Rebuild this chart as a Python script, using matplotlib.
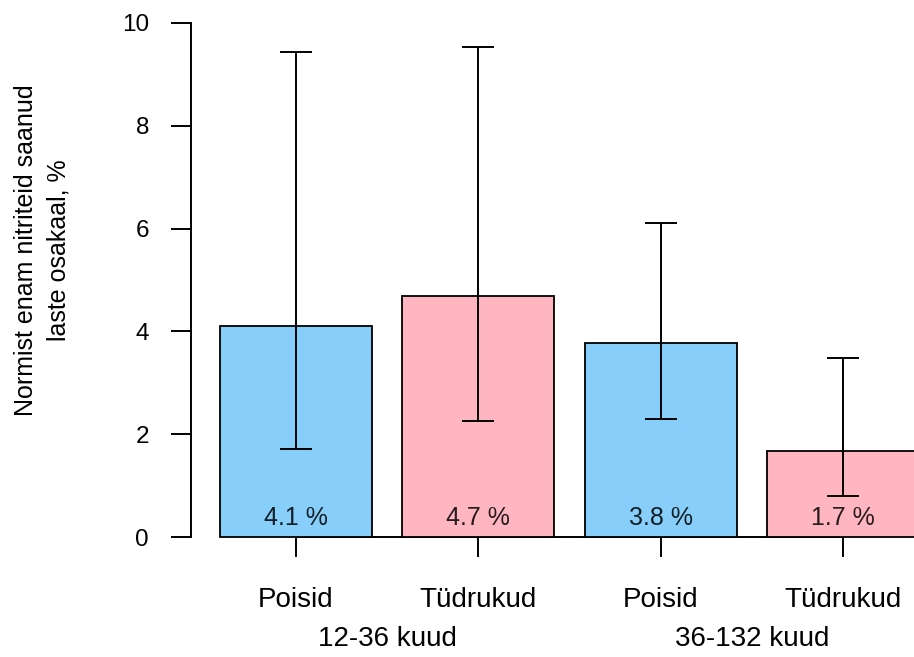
import matplotlib
matplotlib.use("Agg")
import matplotlib.pyplot as plt
import matplotlib.transforms as mtransforms

plt.rcParams['font.family'] = ['Liberation Sans', 'DejaVu Sans']

# nitrite share by sex and age group, with confidence limits
groups = ['12-36 kuud', '36-132 kuud']
sexes = ['Poisid', 'Tüdrukud', 'Poisid', 'Tüdrukud']
share = [4.11, 4.69, 3.77, 1.67]
ci_low = [1.71, 2.26, 2.30, 0.79]
ci_high = [9.44, 9.53, 6.11, 3.49]
colors = ['#87CEFA', '#FFB6C1', '#87CEFA', '#FFB6C1']

# barplot-style positions: width 1, gap 0.2
xpos = [0.7 + 1.2 * i for i in range(len(share))]

fig = plt.figure(figsize=(9.14, 6.57), dpi=100)
W, H = 914, 657
ax = fig.add_axes([191 / W, 1 - 557.6 / H, (W - 191) / W, (557.6 - 2.4) / H])
ax.set_xlim(0.0086, 4.768)
ax.set_ylim(-0.4, 10.4)

ax.bar(xpos, share, width=1.0, color=colors, edgecolor='black', linewidth=1.3, zorder=2)
err = [[s - lo for s, lo in zip(share, ci_low)], [hi - s for s, hi in zip(share, ci_high)]]
ax.errorbar(xpos, share, yerr=err, fmt='none', ecolor='black', elinewidth=1.4,
            capsize=11.5, capthick=1.4, zorder=3)

for x, s in zip(xpos, share):
    ax.text(x, 0.23, f"{s:.1f} %", ha='center', va='baseline', fontsize=18,
            color='black', alpha=0.85, zorder=4)

# axes in R style
for side in ['top', 'right']:
    ax.spines[side].set_visible(False)
ax.spines['left'].set_bounds(0, 10)
ax.spines['left'].set_linewidth(1.4)
ax.spines['bottom'].set_position(('data', 0))
ax.spines['bottom'].set_bounds(xpos[0], xpos[-1])
ax.spines['bottom'].set_linewidth(1.4)
ax.spines['bottom'].set_zorder(1)

ax.set_yticks(range(0, 11, 2))
ax.tick_params(axis='y', length=14.4, width=1.4, pad=15.8, labelsize=17.5)
ax.set_xticks(xpos)
ax.set_xticklabels([])
ax.tick_params(axis='x', length=14.4, width=1.4)

# category and group labels below the axis
trans = mtransforms.blended_transform_factory(ax.transData, fig.transFigure)
for x, lab in zip(xpos, sexes):
    ax.text(x, 1 - 607 / H, lab, transform=trans, ha='center', va='baseline',
            fontsize=20, clip_on=False)
for i, g in enumerate(groups):
    gx = (xpos[2 * i] + xpos[2 * i + 1]) / 2
    ax.text(gx, 1 - 646 / H, g, transform=trans, ha='center', va='baseline',
            fontsize=20, clip_on=False)

fig.text(42 / W, 1 - 250 / H, 'Normist enam nitriteid saanud\nlaste osakaal, %',
         rotation=90, ha='center', va='center', fontsize=18, linespacing=1.45)

fig.savefig('out.png', dpi=100)
